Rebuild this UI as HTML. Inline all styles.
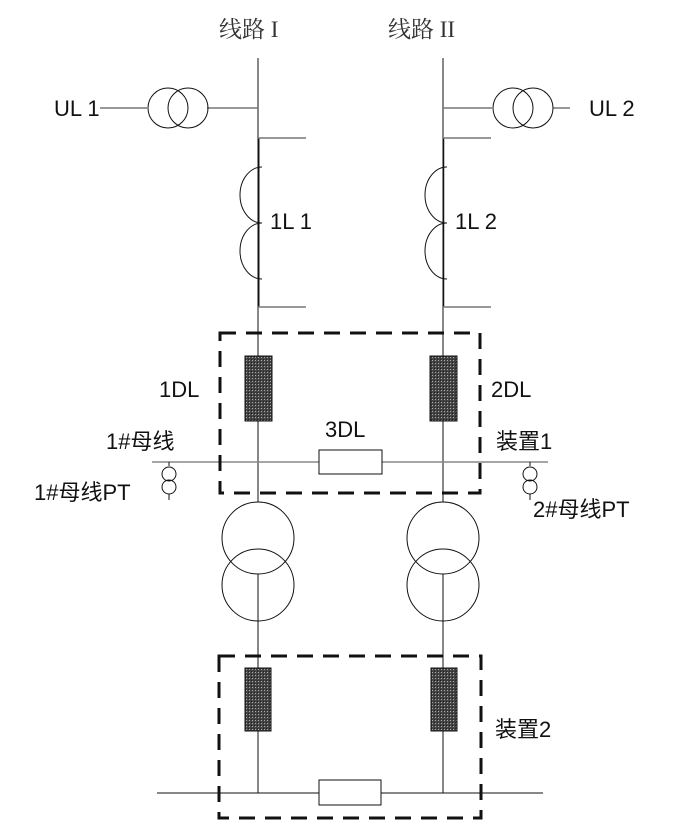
<!DOCTYPE html>
<html><head><meta charset="utf-8"><style>
html,body{margin:0;padding:0;background:#fff;}
svg{display:block;}
text{font-family:"Liberation Sans","Noto Sans CJK SC",sans-serif;font-size:22px;fill:#111;}
.s{font-family:"Liberation Serif","Noto Serif CJK SC",serif;fill:#333;font-size:23px;}
</style></head><body>
<svg width="700" height="826" viewBox="0 0 700 826" xmlns="http://www.w3.org/2000/svg">
<defs>
<pattern id="hatch" width="3" height="3" patternUnits="userSpaceOnUse">
<rect width="3" height="3" fill="#444"/><rect width="1" height="1" fill="#aaa"/><rect x="2" y="2" width="1" height="1" fill="#222"/>
</pattern>
</defs>
<g fill="none" stroke="#111" stroke-width="1">
<line x1="258" y1="58" x2="258" y2="793"/>
<line x1="443" y1="58" x2="443" y2="793"/>
<line x1="258.5" y1="138" x2="258.5" y2="307" stroke-width="2"/>
<line x1="443.5" y1="138" x2="443.5" y2="307" stroke-width="1.5"/>
<line x1="100" y1="108" x2="147" y2="108" stroke="#777" stroke-width="1.5"/>
<line x1="207" y1="108" x2="258" y2="108" stroke="#777" stroke-width="1.5"/>
<circle cx="168" cy="108" r="20"/><circle cx="188" cy="108" r="20"/>
<line x1="443" y1="108" x2="492" y2="108" stroke="#777" stroke-width="1.5"/>
<line x1="553" y1="108" x2="570" y2="108" stroke="#777" stroke-width="1.5"/>
<circle cx="513" cy="108" r="20"/><circle cx="533" cy="108" r="20"/>
<line x1="258" y1="138" x2="306" y2="138" stroke="#777" stroke-width="1.5"/>
<line x1="258" y1="307" x2="306" y2="307" stroke="#777" stroke-width="1.5"/>
<line x1="443" y1="138" x2="491" y2="138" stroke="#777" stroke-width="1.5"/>
<line x1="443" y1="307" x2="491" y2="307" stroke="#777" stroke-width="1.5"/>
<path d="M262 167 A22 28 0 0 0 262 223 A22 28 0 0 0 262 279"/>
<path d="M447 167 A22 28 0 0 0 447 223 A22 28 0 0 0 447 279"/>
<line x1="152" y1="462" x2="548" y2="462" stroke="#888" stroke-width="1.5"/>
<rect x="319" y="450" width="63" height="24" fill="#fff"/>
<line x1="169" y1="462" x2="169" y2="466"/><circle cx="169" cy="474" r="7"/><circle cx="169" cy="487" r="7"/><line x1="169" y1="494" x2="169" y2="500"/>
<line x1="530" y1="462" x2="530" y2="466"/><circle cx="530" cy="474" r="7"/><circle cx="530" cy="487" r="7"/><line x1="530" y1="494" x2="530" y2="500"/>
<circle cx="258" cy="538" r="36" fill="#fff"/><circle cx="258" cy="585" r="36"/>
<circle cx="443" cy="538" r="36" fill="#fff"/><circle cx="443" cy="585" r="36"/>
<line x1="157" y1="793" x2="543" y2="793"/>
<rect x="319" y="780" width="62" height="25" fill="#fff"/>
<path d="M220 333 H480 V493 H220 Z" stroke-width="3" stroke-dasharray="16,10"/>
<path d="M219 656 H481 V818 H219 Z" stroke-width="3" stroke-dasharray="16,10"/>
</g>
<rect x="245" y="356" width="27" height="65" fill="url(#hatch)" stroke="#111"/>
<rect x="430" y="356" width="27" height="65" fill="url(#hatch)" stroke="#111"/>
<rect x="245" y="668" width="26" height="63" fill="url(#hatch)" stroke="#111"/>
<rect x="431" y="668" width="26" height="63" fill="url(#hatch)" stroke="#111"/>
<text x="219" y="37" class="s">线路 I</text>
<text x="388" y="37" class="s">线路 II</text>
<text x="54" y="116">UL 1</text>
<text x="589" y="116">UL 2</text>
<text x="270" y="229">1L 1</text>
<text x="455" y="229">1L 2</text>
<text x="159" y="397">1DL</text>
<text x="491" y="397">2DL</text>
<text x="325" y="437">3DL</text>
<text x="106" y="449">1#母线</text>
<text x="496" y="449">装置1</text>
<text x="34" y="500">1#母线PT</text>
<text x="533" y="517">2#母线PT</text>
<text x="495" y="737">装置2</text>
</svg>
</body></html>
